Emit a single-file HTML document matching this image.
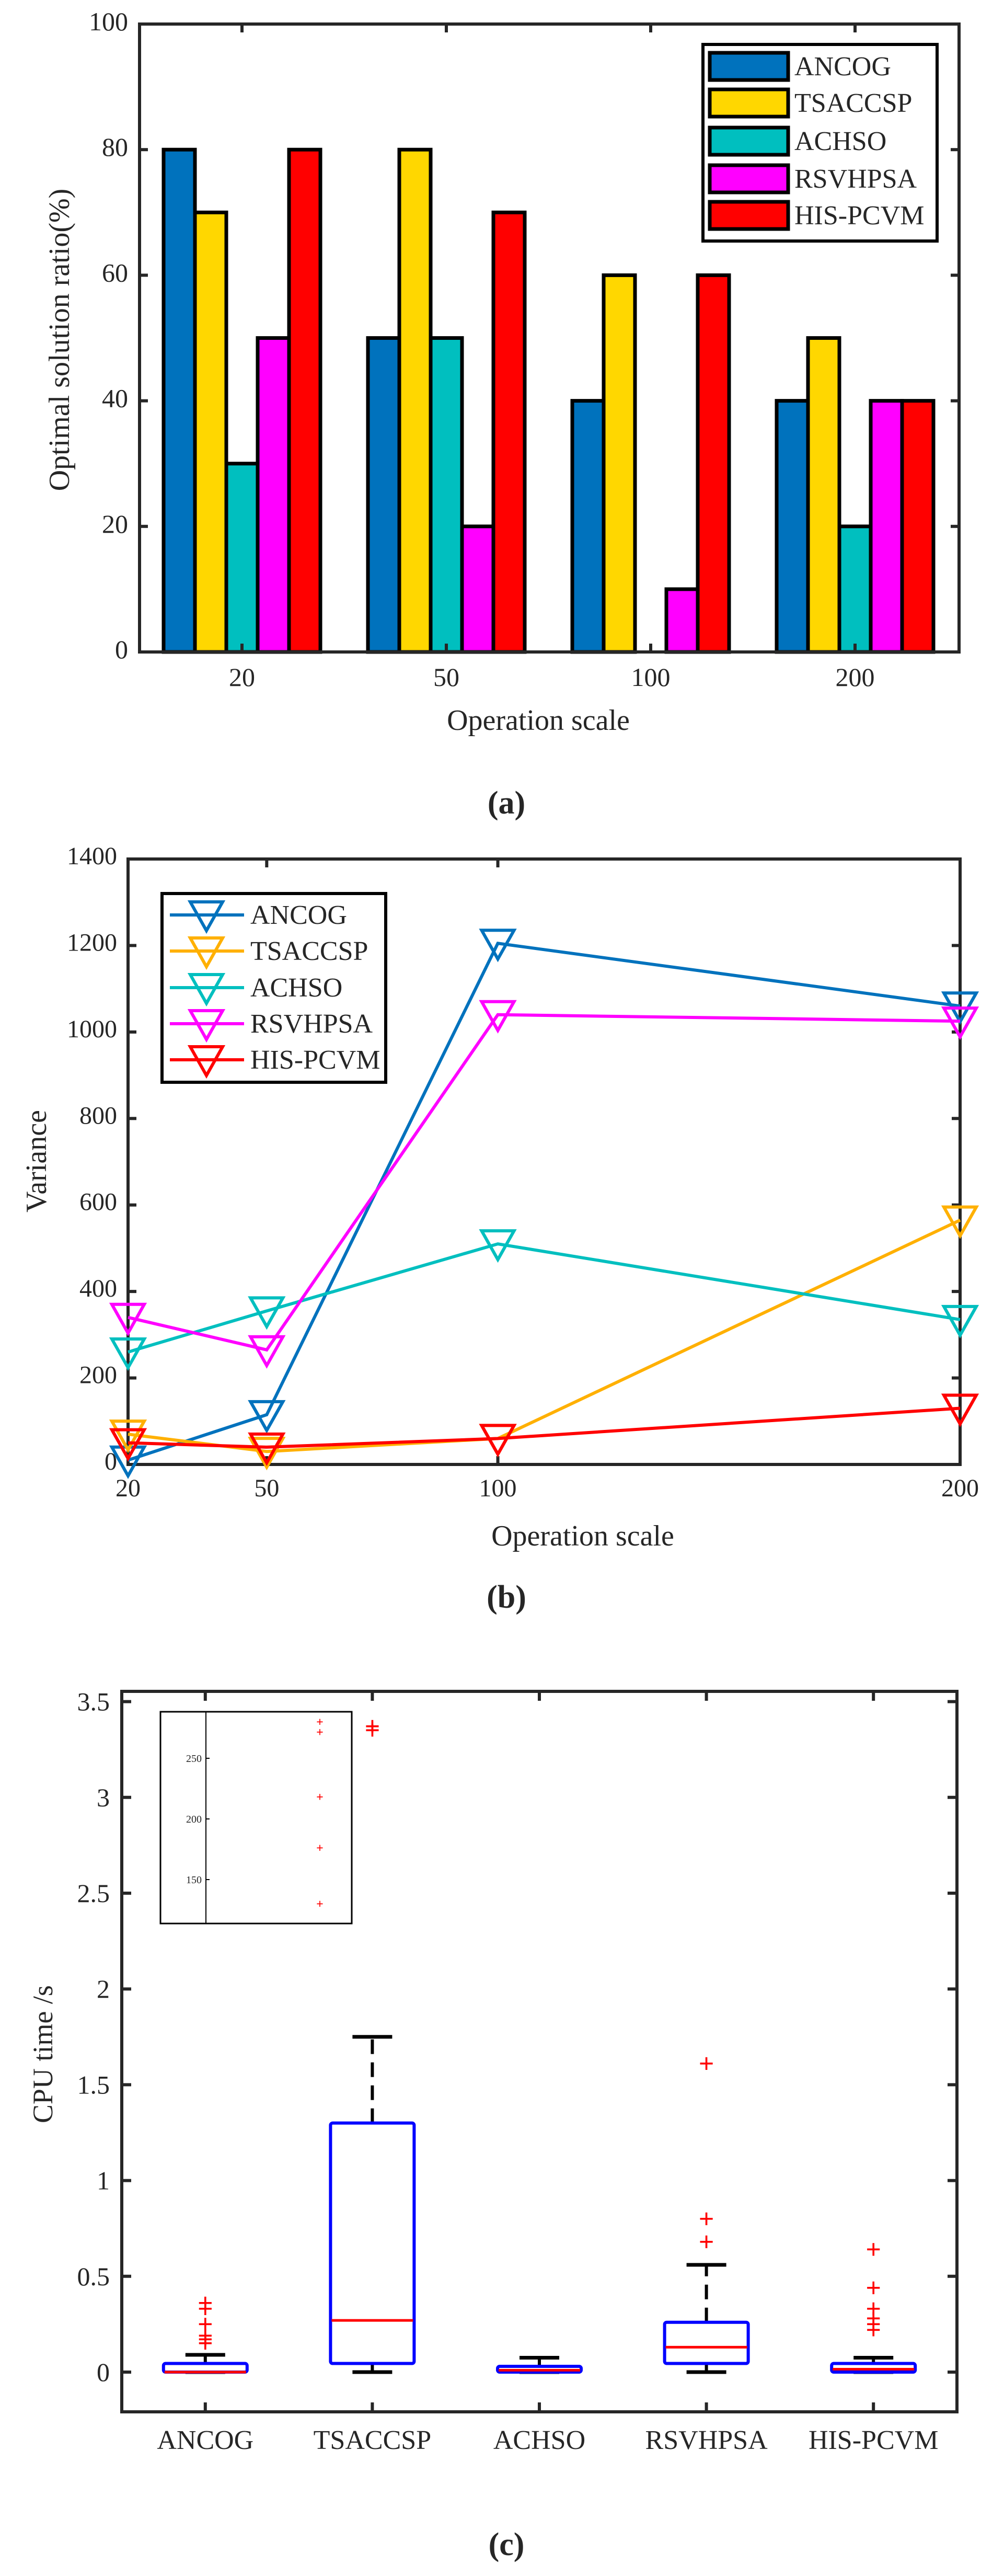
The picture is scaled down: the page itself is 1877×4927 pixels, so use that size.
<!DOCTYPE html>
<html><head><meta charset="utf-8"><style>
html,body{margin:0;padding:0;background:#fff}
svg{display:block}
text{font-family:"Liberation Serif",serif;fill:#262626}
</style></head><body>
<svg id="root" width="1877" height="4927" viewBox="0 0 1877 4927" xmlns="http://www.w3.org/2000/svg">
<g id="ga"></g>
<g id="gb"></g>
<g id="gc"></g>
</svg>
<script>
// ---------- Chart (a) data ----------
const barCategories = ["20","50","100","200"];
const barSeriesNames = ["ANCOG","TSACCSP","ACHSO","RSVHPSA","HIS-PCVM"];
const barANCOG = [80,50,40,40];
const barTSACCSP = [70,80,60,50];
const barACHSO = [30,50,0,20];
const barRSVHPSA = [50,20,10,40];
const barHISPCVM = [80,70,60,40];
const barYTicks = [0,20,40,60,80,100];
// ---------- Chart (b) data ----------
const lineX = [20,50,100,200];
const lineANCOG = [10,115,1205,1060];
const lineTSACCSP = [70,30,60,565];
const lineACHSO = [260,355,510,335];
const lineRSVHPSA = [340,265,1040,1025];
const lineHISPCVM = [50,40,60,130];
const lineYTicks = [0,200,400,600,800,1000,1200,1400];
// ---------- Chart (c) data ----------
const boxCategories = ["ANCOG","TSACCSP","ACHSO","RSVHPSA","HIS-PCVM"];
const boxQ1 = [0,0.045,0,0.045,0];
const boxQ3 = [0.045,1.3,0.03,0.26,0.045];
const boxMedian = [0,0.27,0.01,0.13,0.015];
const boxWhiskLo = [0,0,0,0,0];
const boxWhiskHi = [0.09,1.75,0.075,0.56,0.075];
const boxOutliers = [[0.15,0.17,0.19,0.25,0.33,0.36],[3.35,3.37],[],[0.68,0.8,1.61],[0.22,0.25,0.28,0.33,0.44,0.64]];
const boxYTicks = [0,0.5,1,1.5,2,2.5,3,3.5];
const insetPoints = [280,271.6,218,176,130];
const insetYTicks = [150,200,250];

const NS="http://www.w3.org/2000/svg";
function mk(parent,tag,attrs,txt){const e=document.createElementNS(NS,tag);for(const k in attrs)e.setAttribute(k,attrs[k]);if(txt!==undefined)e.textContent=txt;parent.appendChild(e);return e;}

// ======== Chart A ========
(function(){
const g=document.getElementById('ga');
const L=267,R=1835,T=46,B=1247;
const y=v=>B-(v-0)/(100-0)*(B-T);
const groupX=i=>463+i*391;
const colors=["#0072BD","#FFD700","#00BFBF","#FF00FF","#FF0000"];
const series=[barANCOG,barTSACCSP,barACHSO,barRSVHPSA,barHISPCVM];
const bw=60;
series.forEach((s,si)=>{s.forEach((v,ci)=>{
  if(v<=0)return;
  const x=groupX(ci)-2.5*bw+si*bw;
  const r=mk(g,'rect',{x:x,y:y(v),width:bw,height:B-y(v),fill:colors[si],stroke:'#000','stroke-width':7});
  
  
});});
const ax=mk(g,'rect',{x:L,y:T,width:R-L,height:B-T,fill:'none',stroke:'#262626','stroke-width':6});

barYTicks.forEach(v=>{
  mk(g,'line',{x1:L,x2:L+16,y1:y(v),y2:y(v),stroke:'#262626','stroke-width':6});
  mk(g,'line',{x1:R,x2:R-16,y1:y(v),y2:y(v),stroke:'#262626','stroke-width':6});
  const t=mk(g,'text',{x:245,y:y(v)+12,'text-anchor':'end','font-size':50},String(v));
  
});
barCategories.forEach((c,i)=>{
  mk(g,'line',{x1:groupX(i),x2:groupX(i),y1:B,y2:B-16,stroke:'#262626','stroke-width':6});
  mk(g,'line',{x1:groupX(i),x2:groupX(i),y1:T,y2:T+16,stroke:'#262626','stroke-width':6});
  const t=mk(g,'text',{x:groupX(i),y:1312,'text-anchor':'middle','font-size':50},c);
  
});
let t=mk(g,'text',{x:1030,y:1396,'text-anchor':'middle','font-size':56},'Operation scale');

t=mk(g,'text',{x:0,y:0,'text-anchor':'middle','font-size':56,transform:'translate(132,650) rotate(-90)'},'Optimal solution ratio(%)');

const lg=mk(g,'g',{});

mk(lg,'rect',{x:1345,y:85,width:448,height:376,fill:'#fff',stroke:'#000','stroke-width':6});
const ly=[127,197,270,342,412];
barSeriesNames.forEach((n,i)=>{
  const r=mk(lg,'rect',{x:1358,y:ly[i]-26,width:150,height:52,fill:colors[i],stroke:'#000','stroke-width':7});
  
  const tt=mk(lg,'text',{x:1520,y:ly[i]+17,'font-size':52},n);
  
});
t=mk(g,'text',{x:969,y:1556,'text-anchor':'middle','font-size':62,'font-weight':'bold'},'(a)');

})();

// ======== Chart B ========
(function(){
const g=document.getElementById('gb');
const L=245,R=1837,T=1643,B=2801;
const x=v=>L+(v-20)/(200-20)*(R-L);
const y=v=>B-(v-0)/(1400-0)*(B-T);
const names=["ANCOG","TSACCSP","ACHSO","RSVHPSA","HIS-PCVM"];
const colors=["#0072BD","#FFB000","#00BFBF","#FF00FF","#FF0000"];
const series=[lineANCOG,lineTSACCSP,lineACHSO,lineRSVHPSA,lineHISPCVM];
const ax=mk(g,'rect',{x:L,y:T,width:R-L,height:B-T,fill:'none',stroke:'#262626','stroke-width':6});

lineYTicks.forEach(v=>{
  mk(g,'line',{x1:L,x2:L+16,y1:y(v),y2:y(v),stroke:'#262626','stroke-width':6});
  mk(g,'line',{x1:R,x2:R-16,y1:y(v),y2:y(v),stroke:'#262626','stroke-width':6});
  const t=mk(g,'text',{x:224,y:y(v)+10,'text-anchor':'end','font-size':48},String(v));
  
});
lineX.forEach(v=>{
  mk(g,'line',{x1:x(v),x2:x(v),y1:B,y2:B-16,stroke:'#262626','stroke-width':6});
  mk(g,'line',{x1:x(v),x2:x(v),y1:T,y2:T+16,stroke:'#262626','stroke-width':6});
  const t=mk(g,'text',{x:x(v),y:2862,'text-anchor':'middle','font-size':48},String(v));
  
});
const tri=(cx,cy)=>`${cx-31},${cy-25} ${cx+31},${cy-25} ${cx},${cy+30}`;
series.forEach((s,si)=>{
  const p=mk(g,'polyline',{points:s.map((v,i)=>x(lineX[i])+','+y(v)).join(' '),fill:'none',stroke:colors[si],'stroke-width':6});
  
  s.forEach((v,i)=>{
    const m=mk(g,'polygon',{points:tri(x(lineX[i]),y(v)),fill:'none',stroke:colors[si],'stroke-width':6});
    
  });
});
let t=mk(g,'text',{x:1115,y:2956,'text-anchor':'middle','font-size':56},'Operation scale');

t=mk(g,'text',{x:0,y:0,'text-anchor':'middle','font-size':56,transform:'translate(88,2221) rotate(-90)'},'Variance');

const lg=mk(g,'g',{});

mk(lg,'rect',{x:310,y:1709,width:428,height:361,fill:'#fff',stroke:'#000','stroke-width':6});
const ly=[1750,1819,1889,1958,2027];
names.forEach((n,i)=>{
  mk(lg,'line',{x1:325,x2:467,y1:ly[i],y2:ly[i],stroke:colors[i],'stroke-width':6});
  mk(lg,'polygon',{points:tri(395,ly[i]),fill:'none',stroke:colors[i],'stroke-width':6});
  const tt=mk(lg,'text',{x:479,y:ly[i]+17,'font-size':52},n);
  
});
t=mk(g,'text',{x:969,y:3075,'text-anchor':'middle','font-size':62,'font-weight':'bold'},'(b)');

})();

// ======== Chart C ========
(function(){
const g=document.getElementById('gc');
const L=233,R=1831,T=3235,B=4613;
const x=i=>L+(i+1-0.5)/5*(R-L);
const y=v=>4537-v*366.4;
const ax=mk(g,'rect',{x:L,y:T,width:R-L,height:B-T,fill:'none',stroke:'#262626','stroke-width':6});

boxYTicks.forEach(v=>{
  mk(g,'line',{x1:L,x2:L+18,y1:y(v),y2:y(v),stroke:'#262626','stroke-width':6});
  mk(g,'line',{x1:R,x2:R-18,y1:y(v),y2:y(v),stroke:'#262626','stroke-width':6});
  const t=mk(g,'text',{x:210,y:y(v)+17,'text-anchor':'end','font-size':50},String(v));
  
});
boxCategories.forEach((c,i)=>{
  const cx=x(i);
  mk(g,'line',{x1:cx,x2:cx,y1:B,y2:B-18,stroke:'#262626','stroke-width':6});
  mk(g,'line',{x1:cx,x2:cx,y1:T,y2:T+18,stroke:'#262626','stroke-width':6});
  const t=mk(g,'text',{x:cx,y:4684,'text-anchor':'middle','font-size':52},c);
  
  const w=mk(g,'line',{x1:cx,x2:cx,y1:y(boxQ3[i]),y2:y(boxWhiskHi[i]),stroke:'#000','stroke-width':6,'stroke-dasharray':'28,16'});
  
  mk(g,'line',{x1:cx,x2:cx,y1:y(boxQ1[i]),y2:y(boxWhiskLo[i]),stroke:'#000','stroke-width':6});
  mk(g,'line',{x1:cx-38,x2:cx+38,y1:y(boxWhiskHi[i]),y2:y(boxWhiskHi[i]),stroke:'#000','stroke-width':7});
  mk(g,'line',{x1:cx-38,x2:cx+38,y1:y(boxWhiskLo[i]),y2:y(boxWhiskLo[i]),stroke:'#000','stroke-width':7});
  const b=mk(g,'rect',{x:cx-80,y:y(boxQ3[i]),width:160,height:Math.max(2,y(boxQ1[i])-y(boxQ3[i])),fill:'#fff',stroke:'#0000FF','stroke-width':6,rx:4});
  
  const m=mk(g,'line',{x1:cx-78,x2:cx+78,y1:y(boxMedian[i]),y2:y(boxMedian[i]),stroke:'#FF0000','stroke-width':5});
  
  boxOutliers[i].forEach(v=>{
    const o=mk(g,'text',{x:cx,y:y(v)+17,'text-anchor':'middle','font-size':52,'font-weight':'bold',style:'fill:#FF0000'},'+');
    
  });
});
// inset
const ig=mk(g,'g',{});

mk(ig,'rect',{x:307,y:3274,width:366,height:405,fill:'#fff',stroke:'#000','stroke-width':3});
mk(ig,'line',{x1:394,x2:394,y1:3274,y2:3679,stroke:'#000','stroke-width':2});
const iy=v=>3479-(v-200)*(116/50);
insetYTicks.forEach(v=>{
  mk(ig,'line',{x1:394,x2:401,y1:iy(v),y2:iy(v),stroke:'#000','stroke-width':2});
  const t=mk(ig,'text',{x:386,y:iy(v)+7,'text-anchor':'end','font-size':20},String(v));
  
});
insetPoints.forEach(v=>{
  const o=mk(ig,'text',{x:612,y:iy(v)+8,'text-anchor':'middle','font-size':24,'font-weight':'bold',style:'fill:#FF0000'},'+');
  
});
let t=mk(g,'text',{x:0,y:0,'text-anchor':'middle','font-size':54,transform:'translate(100,3929) rotate(-90)'},'CPU time /s');

t=mk(g,'text',{x:969,y:4887,'text-anchor':'middle','font-size':62,'font-weight':'bold'},'(c)');

})();
</script>
</body></html>
